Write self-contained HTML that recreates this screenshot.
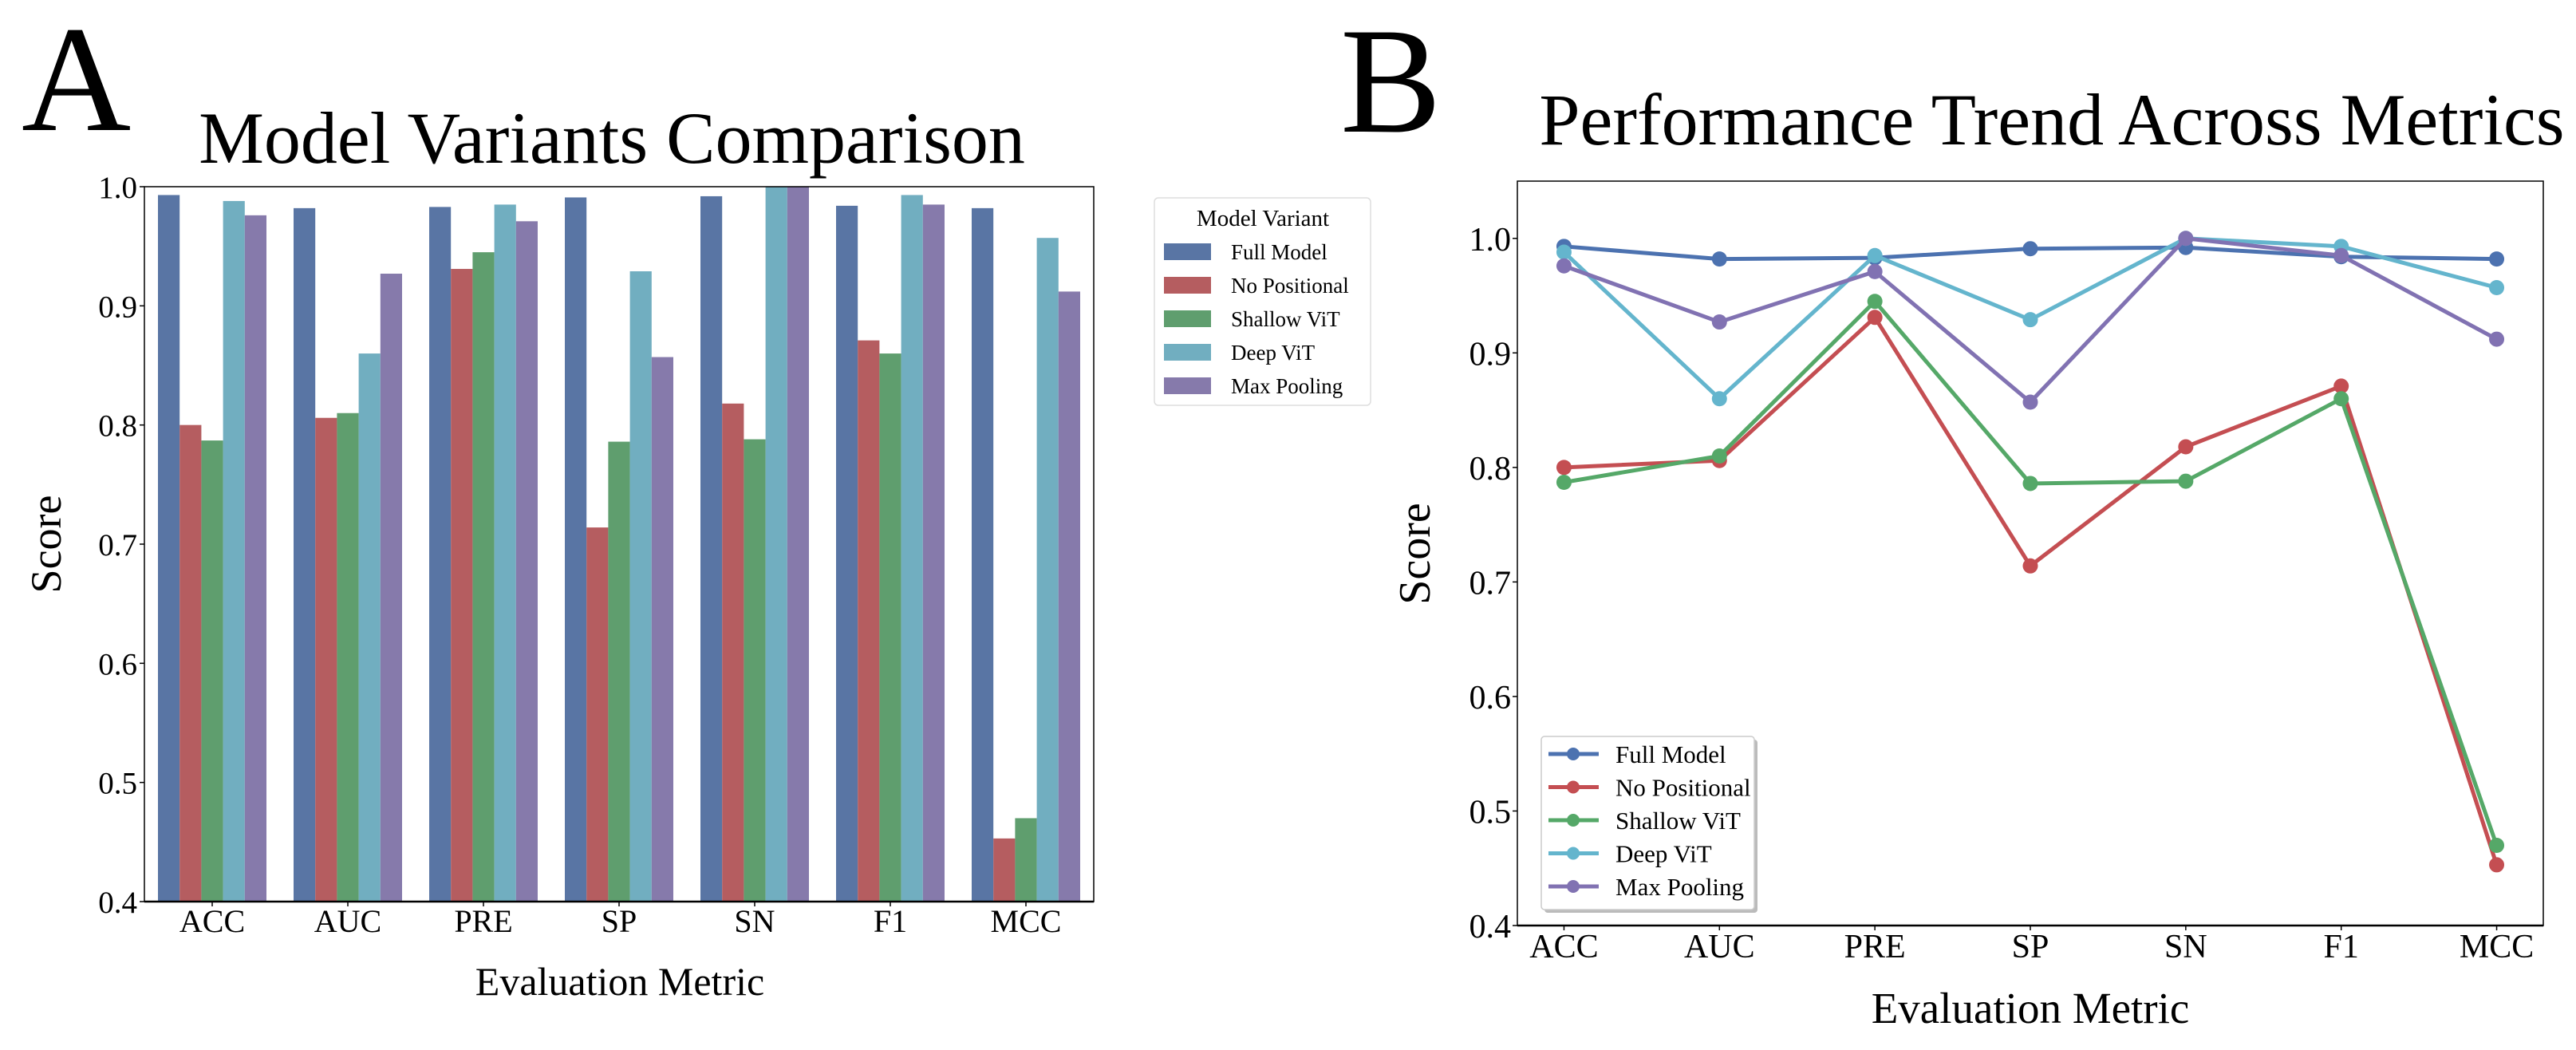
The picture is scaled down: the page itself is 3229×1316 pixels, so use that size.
<!DOCTYPE html>
<html><head><meta charset="utf-8"><style>
html,body{margin:0;padding:0;background:#fff;}
svg text{font-family:"Liberation Serif",serif;fill:#000;}
</style></head><body>
<svg id="fig" width="3229" height="1311" viewBox="0 0 3229 1311" xmlns="http://www.w3.org/2000/svg">
<text x="27" y="163" font-size="190">A</text>
<text x="767" y="204" font-size="92" text-anchor="middle">Model Variants Comparison</text>
<text x="1680" y="165" font-size="190">B</text>
<text x="2572" y="181" font-size="92" text-anchor="middle">Performance Trend Across Metrics</text>
<g id="gA"></g>
<g id="gB"></g>
</svg>
<script>
const categories = ["ACC","AUC","PRE","SP","SN","F1","MCC"];
const seriesNames = ["Full Model","No Positional","Shallow ViT","Deep ViT","Max Pooling"];
const fullModel   = [0.993,0.982,0.983,0.991,0.992,0.984,0.982];
const noPositional= [0.800,0.806,0.931,0.714,0.818,0.871,0.453];
const shallowViT  = [0.787,0.810,0.945,0.786,0.788,0.860,0.470];
const deepViT     = [0.988,0.860,0.985,0.929,1.000,0.993,0.957];
const maxPooling  = [0.976,0.927,0.971,0.857,1.000,0.985,0.912];
const yTicksA = [0.4,0.5,0.6,0.7,0.8,0.9,1.0];
const yTicksB = [0.4,0.5,0.6,0.7,0.8,0.9,1.0];
const series = [fullModel,noPositional,shallowViT,deepViT,maxPooling];
const barColors = ["#5975a4","#b55d60","#5f9e6e","#71aec0","#867aab"];
const lineColors = ["#4c72b0","#c44e52","#55a868","#64b5cd","#8172b2"];
const NS="http://www.w3.org/2000/svg";
function mk(tag, attrs, parent, text){const e=document.createElementNS(NS,tag);for(const k in attrs)e.setAttribute(k,attrs[k]);if(text!==undefined)e.textContent=text;parent.appendChild(e);return e;}

// Panel A
const gA=document.getElementById('gA');
const A={l:181,r:1371,t:234,b:1130,y0:0.4,y1:1.0};
const yA=v=>A.b-(v-A.y0)/(A.y1-A.y0)*(A.b-A.t);
const grpW=(A.r-A.l)/categories.length;
const xA=i=>A.l+grpW*(i+0.5);
const bw=grpW*0.8/5;
series.forEach((s,si)=>{s.forEach((v,i)=>{
  const x=xA(i)-grpW*0.4+si*bw;
  const r=mk('rect',{x:x,y:yA(v),width:bw,height:A.b-yA(v),fill:barColors[si]},gA);
  
  
});});
const frA=mk('rect',{x:A.l,y:A.t,width:A.r-A.l,height:A.b-A.t,fill:'none',stroke:'#000','stroke-width':1.5},gA);


mk('line',{x1:A.l,y1:A.b,x2:A.r,y2:A.b,stroke:'#000','stroke-width':2.5},gA);
yTicksA.forEach(v=>{
  mk('line',{x1:A.l-6,y1:yA(v),x2:A.l,y2:yA(v),stroke:'#000','stroke-width':1.5},gA);
  const t=mk('text',{x:A.l-9,y:yA(v)+14,'font-size':39,'text-anchor':'end'},gA,v.toFixed(1));
  
  
});
categories.forEach((c,i)=>{
  mk('line',{x1:xA(i),y1:A.b,x2:xA(i),y2:A.b+6,stroke:'#000','stroke-width':1.5},gA);
  const t=mk('text',{x:xA(i),y:1168,'font-size':40,'text-anchor':'middle'},gA,c);
  
  
});
const ytA=mk('text',{x:0,y:0,'font-size':54,'text-anchor':'middle',transform:'translate(76,682) rotate(-90)'},gA,'Score');


const xtA=mk('text',{x:777,y:1247,'font-size':50,'text-anchor':'middle'},gA,'Evaluation Metric');


// legend A
const lgA=mk('g',{},gA);


mk('rect',{x:1447,y:248,width:271,height:260,rx:5,fill:'#fff',stroke:'#ddd','stroke-width':1.5},lgA);
mk('text',{x:1583,y:283,'font-size':29,'text-anchor':'middle'},lgA,'Model Variant');
seriesNames.forEach((n,si)=>{
  const cy=315+si*42;
  const p=mk('rect',{x:1459,y:cy-10,width:59,height:21,fill:barColors[si]},lgA);
  
  
  const t=mk('text',{x:1543,y:cy+10,'font-size':27},lgA,n);
  
  
});

// Panel B
const gB=document.getElementById('gB');
const B={l:1902,r:3188,t:227,b:1160,y0:0.4,y1:1.05,x0:-0.3,x1:6.3};
const yB=v=>B.b-(v-B.y0)/(B.y1-B.y0)*(B.b-B.t);
const xB=i=>B.l+(i-B.x0)/(B.x1-B.x0)*(B.r-B.l);
const frB=mk('rect',{x:B.l,y:B.t,width:B.r-B.l,height:B.b-B.t,fill:'none',stroke:'#000','stroke-width':1.5},gB);


mk('line',{x1:B.l,y1:B.b,x2:B.r,y2:B.b,stroke:'#000','stroke-width':2.5},gB);
yTicksB.forEach(v=>{
  mk('line',{x1:B.l-6,y1:yB(v),x2:B.l,y2:yB(v),stroke:'#000','stroke-width':1.5},gB);
  const t=mk('text',{x:B.l-8,y:yB(v)+15,'font-size':42,'text-anchor':'end'},gB,v.toFixed(1));
  
  
});
categories.forEach((c,i)=>{
  mk('line',{x1:xB(i),y1:B.b,x2:xB(i),y2:B.b+6,stroke:'#000','stroke-width':1.5},gB);
  const t=mk('text',{x:xB(i),y:1200,'font-size':42,'text-anchor':'middle'},gB,c);
  
  
});
series.forEach((s,si)=>{
  const pts=s.map((v,i)=>xB(i)+','+yB(v)).join(' ');
  const pl=mk('polyline',{points:pts,fill:'none',stroke:lineColors[si],'stroke-width':5,'stroke-linejoin':'round'},gB);
  
  
  s.forEach((v,i)=>{
    const c=mk('circle',{cx:xB(i),cy:yB(v),r:9.5,fill:lineColors[si]},gB);
    
    
  });
});
const ytB=mk('text',{x:0,y:0,'font-size':56,'text-anchor':'middle',transform:'translate(1792,694) rotate(-90)'},gB,'Score');


const xtB=mk('text',{x:2545,y:1282,'font-size':55,'text-anchor':'middle'},gB,'Evaluation Metric');


const lgB=mk('g',{},gB);


mk('rect',{x:1936,y:927,width:267,height:217,rx:4,fill:'#bbb'},lgB);
mk('rect',{x:1932,y:923,width:267,height:217,rx:4,fill:'#fff',stroke:'#ccc','stroke-width':1.5},lgB);
seriesNames.forEach((n,si)=>{
  const cy=945+si*41.5;
  mk('line',{x1:1941,y1:cy,x2:2004,y2:cy,stroke:lineColors[si],'stroke-width':5},lgB);
  mk('circle',{cx:1972,cy:cy,r:8,fill:lineColors[si]},lgB);
  const t=mk('text',{x:2025,y:cy+11,'font-size':31},lgB,n);
  
  
});
</script>
</body></html>
